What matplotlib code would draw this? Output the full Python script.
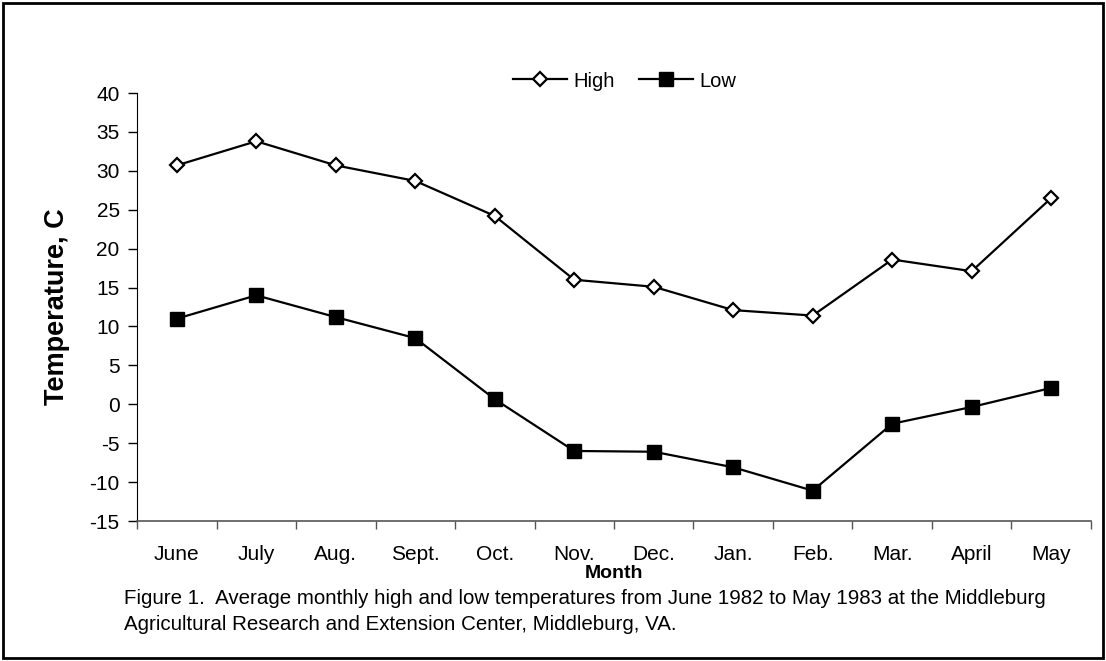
import numpy as np
import matplotlib
matplotlib.use('Agg')
import matplotlib.pyplot as plt
from matplotlib.patches import Rectangle

plt.rcParams['font.family'] = ['Liberation Sans', 'DejaVu Sans']

months = ['June', 'July', 'Aug.', 'Sept.', 'Oct.', 'Nov.', 'Dec.',
          'Jan.', 'Feb.', 'Mar.', 'April', 'May']
high = [30.7, 33.8, 30.7, 28.7, 24.2, 16.0, 15.1, 12.1, 11.4, 18.6, 17.1, 26.5]
low = [11.0, 14.0, 11.2, 8.5, 0.65, -6.0, -6.1, -8.1, -11.1, -2.5, -0.35, 2.1]
yticks = np.arange(-15, 41, 5)
caption = ['Figure 1.  Average monthly high and low temperatures from June 1982 to May 1983 at the Middleburg',
           'Agricultural Research and Extension Center, Middleburg, VA.']

fig = plt.figure(figsize=(11.06, 6.61), dpi=100)
ax = fig.add_axes([0.1239, 0.2118, 0.8625, 0.6475])

x = np.arange(len(months))
ax.plot(x, high, '-', color='black', lw=1.6, marker='D', ms=7.5,
        mfc='white', mec='black', mew=1.6, label='High')
ax.plot(x, low, '-', color='black', lw=1.6, marker='s', ms=9.5,
        mfc='black', mec='black', label='Low')

ax.set_xlim(-0.5, len(months) - 0.5)
ax.set_ylim(-15, 40)
ax.set_yticks(yticks)
ax.set_yticklabels([str(v) for v in yticks], fontsize=15)
ax.set_xticks(x)
ax.set_xticklabels(months, fontsize=15)
ax.set_xticks(np.arange(-0.5, len(months), 1), minor=True)
ax.tick_params(axis='x', which='major', length=0, pad=17)
ax.tick_params(axis='x', which='minor', length=6, width=1, direction='out', color='#555555')
ax.tick_params(axis='y', length=6.5, width=1, direction='out', pad=6)

for s in ['top', 'right']:
    ax.spines[s].set_visible(False)
ax.spines['left'].set_color('black')
ax.spines['bottom'].set_color('#555555')
ax.spines['bottom'].set_linewidth(1.2)

ax.set_ylabel('Temperature, C', fontsize=19.5, fontweight='bold', labelpad=14)
ax.set_xlabel('Month', fontsize=14, fontweight='bold', labelpad=1)

ax.legend(loc='center', bbox_to_anchor=(0.511, 1.028), ncol=2, frameon=False,
          fontsize=14.5, handlelength=2.7, columnspacing=1.2, handletextpad=0.3,
          borderpad=0, borderaxespad=0)

fig.text(0.112, 1 - 598 / 661, caption[0], fontsize=14.8, va='center', ha='left')
fig.text(0.112, 1 - 625 / 661, caption[1], fontsize=14.8, va='center', ha='left')

fig.patches.append(Rectangle((0.003, 0.004), 0.994, 0.992, transform=fig.transFigure,
                             fill=False, ec='black', lw=2))

fig.savefig('out.png', dpi=100)
